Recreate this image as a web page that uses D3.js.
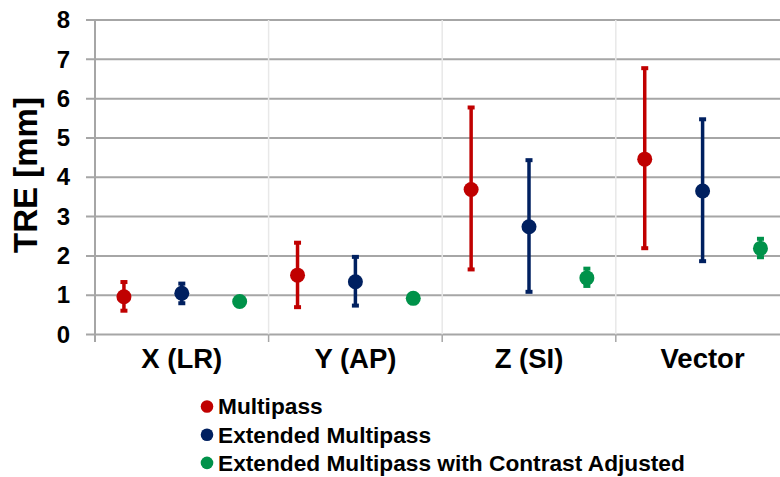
<!DOCTYPE html>
<html>
<head>
<meta charset="utf-8">
<script src="https://cdn.jsdelivr.net/npm/d3@7"></script>
<style>
  html, body { margin: 0; padding: 0; background: #fff; }
  svg { display: block; font-family: "Liberation Sans", Arial, sans-serif; }
</style>
</head>
<body>
<svg id="chart" width="780" height="477"></svg>
<script>
const categories = ["X (LR)", "Y (AP)", "Z (SI)", "Vector"];
const seriesNames = ["Multipass", "Extended Multipass", "Extended Multipass with Contrast Adjusted"];
const seriesColors = ["#c00000", "#002060", "#00924a"];

const multipassMean = [0.96, 1.51, 3.69, 4.46];
const multipassLow  = [0.58, 0.67, 1.63, 2.17];
const multipassHigh = [1.36, 2.36, 5.80, 6.80];

const extendedMean = [1.05, 1.34, 2.74, 3.65];
const extendedLow  = [0.77, 0.71, 1.06, 1.84];
const extendedHigh = [1.32, 2.00, 4.46, 5.50];

const contrastMean = [0.84, 0.92, 1.44, 2.19];
const contrastLow  = [0.79, 0.86, 1.21, 1.94];
const contrastHigh = [0.90, 0.98, 1.70, 2.46];

const yTicks = [0, 1, 2, 3, 4, 5, 6, 7, 8];

const seriesData = [
  { name: seriesNames[0], color: seriesColors[0], mean: multipassMean, low: multipassLow, high: multipassHigh },
  { name: seriesNames[1], color: seriesColors[1], mean: extendedMean, low: extendedLow, high: extendedHigh },
  { name: seriesNames[2], color: seriesColors[2], mean: contrastMean, low: contrastLow, high: contrastHigh }
];

const svg = d3.select("#chart");
const mLeft = 95, mTop = 20, mBottom = 334.5, groupW = 173.6;

const y = d3.scaleLinear().domain([0, 8]).range([mBottom, mTop]);
const x = d3.scaleBand().domain(categories).range([mLeft, mLeft + groupW * categories.length]).padding(0);
const xs = d3.scaleBand().domain(seriesNames).range([0, x.bandwidth()]).padding(0);

// horizontal gridlines (with left tick stubs)
svg.append("g").selectAll("line").data(yTicks).join("line")
  .attr("x1", 86).attr("x2", 780)
  .attr("y1", d => y(d)).attr("y2", d => y(d))
  .attr("stroke", "#a6a6a6").attr("stroke-width", 2);

// light vertical separators
const bounds = categories.slice(1).map(c => x(c));
svg.append("g").selectAll("line").data(bounds).join("line")
  .attr("x1", d => d).attr("x2", d => d)
  .attr("y1", mTop).attr("y2", mBottom)
  .attr("stroke", "#e8e8e8").attr("stroke-width", 1.5);

// bottom tick marks
svg.append("g").selectAll("line").data(bounds).join("line")
  .attr("x1", d => d).attr("x2", d => d)
  .attr("y1", mBottom).attr("y2", mBottom + 7.5)
  .attr("stroke", "#a6a6a6").attr("stroke-width", 1.5);

// y-axis line
svg.append("line")
  .attr("x1", mLeft).attr("x2", mLeft).attr("y1", mTop).attr("y2", mBottom + 7.5)
  .attr("stroke", "#a6a6a6").attr("stroke-width", 2);

// y tick labels via axis
const yAxis = svg.append("g").attr("transform", `translate(${mLeft},0)`)
  .call(d3.axisLeft(y).tickValues(yTicks).tickSize(0).tickPadding(25).tickFormat(d3.format("d")));
yAxis.select(".domain").remove();
yAxis.selectAll("text")
  .attr("font-family", "'Liberation Sans', Arial, sans-serif")
  .attr("font-size", 24).attr("font-weight", "bold").attr("fill", "#000");

// y title
svg.append("text")
  .attr("transform", "translate(37,175) rotate(-90)")
  .attr("text-anchor", "middle")
  .attr("font-size", 33).attr("font-weight", "bold").attr("fill", "#000")
  .text("TRE [mm]");

// category labels
svg.append("g").selectAll("text").data(categories).join("text")
  .attr("x", d => x(d) + x.bandwidth() / 2)
  .attr("y", 368)
  .attr("text-anchor", "middle")
  .attr("font-size", 27.5).attr("font-weight", "bold").attr("fill", "#000")
  .text(d => d);

// error bars and points
const plot = svg.append("g");
seriesData.forEach(s => {
  const g = plot.append("g");
  const cx = (i) => x(categories[i]) + xs(s.name) + xs.bandwidth() / 2;
  const idx = d3.range(categories.length);
  g.selectAll("line.bar").data(idx).join("line").attr("class", "bar")
    .attr("x1", cx).attr("x2", cx)
    .attr("y1", i => y(s.low[i])).attr("y2", i => y(s.high[i]))
    .attr("stroke", s.color).attr("stroke-width", 3.5);
  g.selectAll("rect.capTop").data(idx).join("rect").attr("class", "capTop")
    .attr("x", i => cx(i) - 3.5).attr("y", i => y(s.high[i]) - 1)
    .attr("width", 7).attr("height", 4).attr("fill", s.color);
  g.selectAll("rect.capBot").data(idx).join("rect").attr("class", "capBot")
    .attr("x", i => cx(i) - 3.5).attr("y", i => y(s.low[i]) - 3)
    .attr("width", 7).attr("height", 4).attr("fill", s.color);
  g.selectAll("circle").data(idx).join("circle")
    .attr("cx", cx).attr("cy", i => y(s.mean[i])).attr("r", 7.5)
    .attr("fill", s.color);
});

// legend
const legend = svg.append("g");
const lg = legend.selectAll("g").data(seriesData).join("g")
  .attr("transform", (d, i) => `translate(207,${406.5 + i * 28.2})`);
lg.append("circle").attr("r", 6.3).attr("fill", d => d.color);
lg.append("text").attr("x", 11).attr("y", 7.8)
  .attr("font-size", 22.7).attr("font-weight", "bold").attr("fill", "#000")
  .text(d => d.name);
</script>
</body>
</html>
